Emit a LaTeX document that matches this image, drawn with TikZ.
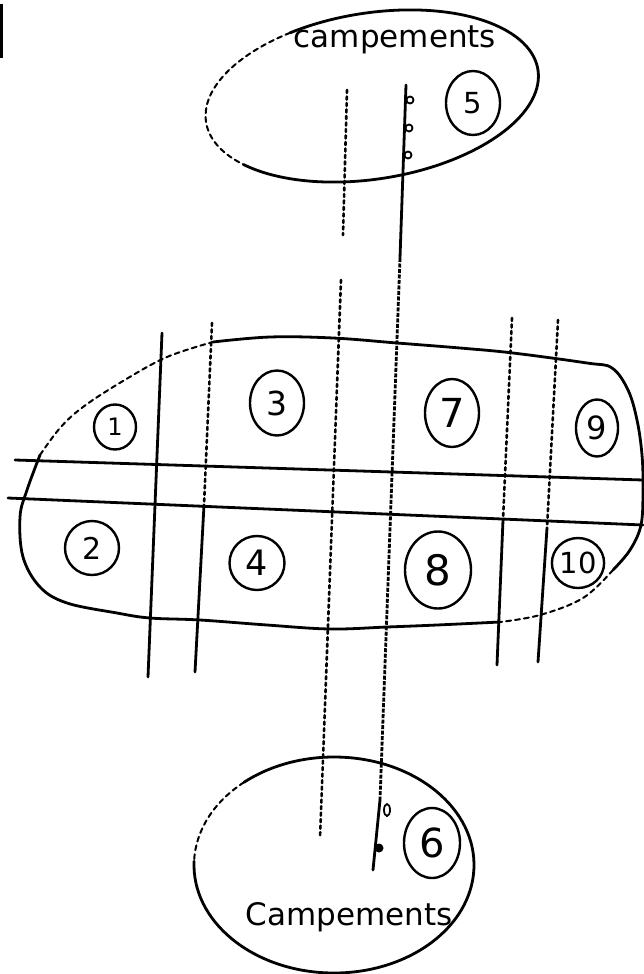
\documentclass[tikz,border=0pt]{standalone}
\usepackage{fontspec}
\newfontfamily\hand{DejaVu Sans}
\usetikzlibrary{shapes.geometric}
\newcommand\fsz[1]{\fontsize{#1}{#1}\selectfont}
\tikzset{
  ink/.style={line width=2.8pt, line cap=round, line join=round},
  inkdot/.style={line width=2.6pt, line cap=round, dash pattern=on 3pt off 3.5pt},
  inkdash/.style={line width=2pt, line cap=round, dash pattern=on 5pt off 4pt},
  numc/.style={draw, ellipse, line width=2.4pt, inner sep=0pt, font=\hand},
  handtext/.style={font=\hand\fsz{31}, anchor=base, inner sep=0pt},
  tinyo/.style={draw, circle, line width=1.8pt, inner sep=0pt, minimum size=7pt}
}
\begin{document}
\begin{tikzpicture}[x=1pt, y=-1pt]
\useasboundingbox (0,0) rectangle (643,974);

% scan artefact at top left
\draw[line width=3pt] (1.5,4) -- (1.5,58);

% ---------- top ellipse ----------
\begin{scope}[shift={(372,96)}, rotate=9]
  \draw[inkdash] (115:168pt and 83pt) arc[start angle=115, end angle=215, x radius=168pt, y radius=83pt];
  \draw[ink] (215:168pt and 83pt) arc[start angle=215, end angle=475, x radius=168pt, y radius=83pt];
\end{scope}
\node[handtext] (ttop) at (395,48) {campements};
\node[numc, minimum width=54pt, minimum height=64pt] (n5) at (473,103) {\fsz{29}5};

% ---------- bottom ellipse ----------
\begin{scope}[shift={(334,865)}]
  \draw[inkdash] (130:140pt and 108pt) arc[start angle=130, end angle=178, x radius=140pt, y radius=108pt];
  \draw[ink] (178:140pt and 108pt) arc[start angle=178, end angle=490, x radius=140pt, y radius=108pt];
\end{scope}
\node[handtext] (tbot) at (349,925) {Campements};
\node[numc, minimum width=56pt, minimum height=70pt] (n6) at (432,843) {\fsz{40}6};

% ---------- central blob ----------
\draw[ink] plot[smooth, tension=0.6] coordinates {(213,342) (270,337) (333,338) (397,343) (460,348) (513,353) (587,363) (612,368) (628,390) (637,420) (642,455) (643,490) (641,525) (630,550) (613,570)};
\draw[inkdash] plot[smooth, tension=0.6] coordinates {(613,570) (583,598) (540,615) (500,622)};
\draw[ink] plot[smooth, tension=0.6] coordinates {(500,622) (437,625) (387,627) (330,629) (267,625) (200,620) (150,618) (117,613) (67,603) (40,587) (23,557) (20,517) (27,490) (40,455)};
\draw[inkdash] plot[smooth, tension=0.6] coordinates {(40,455) (60,428) (83,407) (123,381) (167,357) (213,342)};

% horizontal lines
\coordinate (h1a) at (15,460); \coordinate (h1b) at (643,480);
\coordinate (h2a) at (8,498);  \coordinate (h2b) at (643,525);
\draw[ink] (h1a) -- (h1b);
\draw[ink] (h2a) -- (h2b);

% vertical lines of the blob
\coordinate (v1a) at (162,333); \coordinate (v1b) at (148,677);
\draw[ink] (v1a) -- (v1b);
\coordinate (v2a) at (212,323); \coordinate (v2m) at (204,505); \coordinate (v2b) at (195,672);
\draw[inkdot] (v2a) -- (v2m);
\draw[ink] (v2m) -- (v2b);
\coordinate (v5a) at (512,318); \coordinate (v5m) at (503,520); \coordinate (v5b) at (497,665);
\draw[inkdot] (v5a) -- (v5m);
\draw[ink] (v5m) -- (v5b);
\coordinate (v6a) at (558,320); \coordinate (v6m) at (547,528); \coordinate (v6b) at (538,662);
\draw[inkdot] (v6a) -- (v6m);
\draw[ink] (v6m) -- (v6b);

% long lines between the camps
\coordinate (v3a) at (347,90); \coordinate (v3g) at (343,235);
\coordinate (v3h) at (341,280); \coordinate (v3b) at (320,838);
\draw[inkdot] (v3a) -- (v3g);
\draw[inkdot] (v3h) -- (v3b);
\coordinate (v4a) at (406,85); \coordinate (v4m) at (400,258);
\coordinate (v4n) at (380,800); \coordinate (v4b) at (373,870);
\draw[ink] (v4a) -- (v4m);
\draw[line width=2.8pt, dash pattern=on 4pt off 1.5pt] (v4m) -- (v4n);
\draw[ink] (v4n) -- (v4b);

% small marks on the line
\node[tinyo] (o1) at (410,100) {};
\node[tinyo] (o2) at (409,128) {};
\node[tinyo] (o3) at (408,155) {};
\node[draw, ellipse, line width=1.8pt, inner sep=0pt, minimum width=6pt, minimum height=12pt] (o4) at (387,810) {};
\node[circle, fill, inner sep=0pt, minimum size=9pt] (o5) at (379,848) {};

% numbered circles
\node[numc, minimum width=42pt, minimum height=45pt] (n1) at (115,427) {\fsz{24}1};
\node[numc, minimum width=54pt, minimum height=65pt] (n3) at (277,403) {\fsz{33}3};
\node[numc, minimum width=54pt, minimum height=54pt] (n2) at (92,548) {\fsz{30}2};
\node[numc, minimum width=55pt, minimum height=54pt] (n4) at (257,563) {\fsz{35}4};
\node[numc, minimum width=54pt, minimum height=68pt] (n7) at (452,413) {\fsz{40}7};
\node[numc, minimum width=42pt, minimum height=57pt] (n9) at (597,428) {\fsz{32}9};
\node[numc, minimum width=66pt, minimum height=77pt] (n8) at (438,570) {\fsz{42}8};
\node[numc, minimum width=47pt, minimum height=50pt] (n10) at (578,563) {\fsz{29}10};
\end{tikzpicture}
\end{document}
